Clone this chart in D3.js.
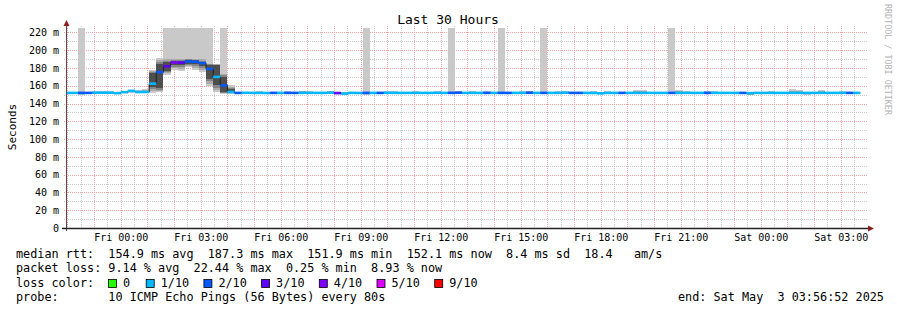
<!DOCTYPE html>
<html>
<head>
<meta charset="utf-8">
<script src="https://cdn.jsdelivr.net/npm/d3@7"></script>
<style>
  body { margin: 0; background: #fff; }
  text { font-family: "DejaVu Sans Mono", monospace; fill: #000; }
</style>
</head>
<body>
<div id="chart"></div>
<script>
// time range of the graph (UTC)
const endTime = Date.UTC(2025, 4, 3, 3, 56, 52);
const startTime = endTime - 30 * 3600 * 1000;
// consolidated rrd bins: 16 minutes each, first one starts Thu 21:52
const binStart = Date.UTC(2025, 4, 1, 21, 52);
const binMinutes = 16;

// median rtt per bin (ms)
const median = [
  152, 152, 152, 152, 152.2, 152.2, 152.2, 151.7, 152.8, 154.3, 153, 153, 162.4, 175.4, 182, 186.3,
  186, 187.3, 187, 185.5, 179, 170, 160.5, 153, 152, 152.1, 152, 152, 151.9, 152, 152, 152,
  152, 152.1, 152, 152, 152, 152.2, 151.8, 151.2, 152, 151.9, 152, 152, 152, 152.1, 152, 152,
  152, 152, 152, 152, 152.1, 152, 152, 152.2, 152, 152, 152, 152, 152, 152, 152, 152,
  152, 152.1, 152, 152, 152, 152, 152.2, 152, 152, 152, 151.9, 151.5, 152, 152, 152, 152,
  152, 152, 152, 152, 152, 152, 152, 152, 152, 152, 152, 152, 152, 152, 152, 152,
  151.7, 152, 152, 152, 152, 152, 152, 152, 152, 152, 152, 152, 152, 152, 152, 152
];

// lost pings per bin (out of 10)
const loss = [
  1, 1, 2, 2, 1, 1, 1, 1, 1, 1, 1, 1, 1, 2, 3, 4,
  3, 2, 2, 2, 2, 1, 2, 1, 2, 1, 1, 1, 1, 2, 1, 2,
  2, 1, 1, 1, 1, 1, 3, 1, 1, 1, 2, 1, 2, 1, 1, 1,
  1, 1, 1, 1, 1, 1, 2, 2, 1, 1, 1, 2, 1, 2, 2, 1,
  1, 2, 1, 2, 1, 1, 1, 2, 2, 1, 1, 1, 1, 1, 2, 1,
  1, 1, 1, 1, 1, 2, 1, 1, 1, 1, 2, 1, 1, 1, 1, 2,
  1, 1, 1, 1, 1, 1, 1, 1, 1, 1, 1, 1, 1, 1, 2, 1
];

// fastest ping per bin (ms)
const pingLo = [
  151.3, 151.3, 149.5, 151, 151.5, 151.5, 151.5, 150.8, 152, 152, 151.5, 151.5, 151.8, 153, 172.5, 178,
  176.5, 181, 177.3, 175.4, 159.4, 153, 151, 151, 151.2, 151.3, 151.3, 151.3, 151.3, 151.3, 151.3, 151.3,
  151.3, 151.3, 151.3, 151.3, 151.3, 151.3, 151, 150.3, 151.3, 150.3, 150, 151.3, 151.3, 151.3, 151.3, 151.3,
  151.3, 151.3, 151.3, 151.3, 151.3, 151.3, 151, 151.3, 151.3, 151.3, 151.3, 151.3, 151.3, 151, 151.3, 151.3,
  151.3, 151.3, 151.3, 151, 151.3, 151.3, 151.3, 151.3, 151.3, 151.3, 151.3, 150.3, 151.3, 151.3, 151.3, 151.3,
  151.3, 151.3, 151.3, 151.3, 151.3, 151, 151.3, 151.3, 151.3, 151.3, 151.3, 151.3, 151.3, 151.3, 151.3, 151.3,
  149.3, 151.3, 151.3, 151.3, 151.3, 151.3, 151.3, 151.3, 150, 151.3, 151.3, 151.3, 151.3, 151.3, 151.3, 151.3
];

// slowest answered ping per bin (ms)
const pingHi = [
  152.8, 152.8, 153, 153.5, 153.8, 154, 154, 152.5, 153.5, 155.5, 155, 156, 178, 191, 191, 191,
  191, 191, 191, 191, 186, 184.8, 175, 160.5, 152.8, 153.2, 152.8, 154, 152.8, 152.8, 152.8, 154,
  152.8, 154.5, 154, 152.8, 152.8, 154.5, 152.8, 152.8, 152.8, 152.8, 153, 152.8, 152.8, 154, 154, 152.8,
  152.8, 154, 152.8, 152.8, 154, 152.8, 153, 154.5, 152.8, 154, 152.8, 154, 152.8, 153, 152.8, 152.8,
  154, 154.5, 152.8, 153, 152.8, 154, 154, 152.8, 152.8, 152.8, 154, 152.8, 154, 152.8, 152.8, 152.8,
  155, 155, 152.8, 152.8, 152.8, 153, 155, 154, 152.8, 152.8, 154, 154, 152.8, 152.8, 152.8, 152.8,
  152.8, 152.8, 152.8, 154, 152.8, 152.8, 156, 155, 152.8, 152.8, 155, 152.8, 152.8, 154, 152.8, 152.8
];

// dense middle of the ping spread, only where it is wider than the median line
const coreLo = [
  null, null, null, null, null, null, null, null, null, null, null, null, 158.5, 157, 177, 183,
  183, 185, 184, 182, 168, 160.5, 153, 152
];
const coreHi = [
  null, null, null, null, null, null, null, null, null, null, null, null, 174, 185, 187, 188.3,
  188, 189, 188.5, 187, 183, 183, 170, 156
];

// bins where some pings went above the top of the graph
const overMaxBins = [2, 14, 15, 16, 17, 18, 19, 20, 22, 42, 54, 61, 67, 85];

const lossThresholds = [0, 1, 2, 3, 4, 5, 9];
const lossLabels = ["0", "1/10", "2/10", "3/10", "4/10", "5/10", "9/10"];
const lossColors = ["#26ff00", "#00b8ff", "#0059ff", "#5e00ff", "#7e00ff", "#dd00ff", "#ff0000"];

const yTicks = [0, 20, 40, 60, 80, 100, 120, 140, 160, 180, 200, 220];

const legendLines = [
  "median rtt:  154.9 ms avg  187.3 ms max  151.9 ms min  152.1 ms now  8.4 ms sd  18.4   am/s",
  "packet loss: 9.14 % avg  22.44 % max  0.25 % min  8.93 % now"
];
const probeLine = "probe:       10 ICMP Echo Pings (56 Bytes) every 80s";
const endLine = "end: Sat May  3 03:56:52 2025";

const width = 897;
const height = 310;
const plotL = 66, plotR = 866, plotT = 28, plotB = 228;

const svg = d3.select('#chart')
  .append('svg')
  .attr('width', width)
  .attr('height', height);

const x = d3.scaleUtc().domain([startTime, endTime]).range([plotL, plotR]);
const y = d3.scaleLinear().domain([0, 225]).range([plotB, plotT]);

//grid: minor first, then major (drawn as 1px dotted lines)
const minorT = d3.utcMinute.every(30).range(new Date(startTime), new Date(endTime))
  .filter(d => d.getUTCMinutes() === 30);
const majorT = d3.utcHour.every(1).range(new Date(startTime), new Date(endTime));
const minorV = d3.range(10, 225, 20);

const grid = svg.append('g');
function vline(sel, data, color) {
  sel.selectAll(null).data(data).enter().append('rect')
    .attr('x', d => Math.round(x(d))).attr('width', 1)
    .attr('y', 25).attr('height', plotB - 25)
    .attr('fill', color);
}
function hline(sel, data, color) {
  sel.selectAll(null).data(data).enter().append('rect')
    .attr('x', 63).attr('width', 868 - 63)
    .attr('y', d => Math.round(y(d))).attr('height', 1)
    .attr('fill', color);
}
// dotted look: pattern fills
const defs = svg.append('defs');
function dotPattern(id, color, vertical) {
  const p = defs.append('pattern').attr('id', id).attr('patternUnits', 'userSpaceOnUse')
    .attr('width', 2).attr('height', 2);
  p.append('rect').attr('x', 0).attr('y', 0).attr('width', vertical ? 2 : 1).attr('height', vertical ? 1 : 2)
    .attr('fill', color);
}
dotPattern('minV', '#cacaca', true);
dotPattern('minH', '#cacaca', false);
dotPattern('majV', '#f4a2a2', true);
dotPattern('majH', '#f4a2a2', false);
vline(grid, minorT, 'url(#minV)');
hline(grid, minorV, 'url(#minH)');
vline(grid, majorT, 'url(#majV)');
hline(grid, yTicks.slice(1), 'url(#majH)');

//bins
const bins = median.map((m, i) => {
  const t0 = binStart + i * binMinutes * 60000;
  return {
    t0: t0,
    t1: t0 + binMinutes * 60000,
    median: m,
    loss: loss[i],
    lo: pingLo[i],
    hi: pingHi[i],
    cLo: coreLo[i] ?? m,
    cHi: coreHi[i] ?? m,
    over: overMaxBins.includes(i)
  };
});

svg.append('clipPath').attr('id', 'plot')
  .append('rect').attr('x', plotL).attr('y', plotT).attr('width', plotR - plotL).attr('height', plotB - plotT);

const plot = svg.append('g').attr('clip-path', 'url(#plot)').attr('shape-rendering', 'crispEdges');

// smoke: pings above the graph top show as tall light bars
plot.selectAll('.over').data(bins.filter(d => d.over)).enter().append('rect')
  .attr('x', d => x(d.t0)).attr('width', d => x(d.t1) - x(d.t0))
  .attr('y', plotT).attr('height', d => y(d.lo) - plotT)
  .attr('fill', '#c9c9c9');

const shades = ['#c9c9c9', '#aaaaaa', '#858585', '#4e4e4e'];
shades.forEach((c, j) => {
  const f = j / (shades.length - 1);
  plot.selectAll('.smoke' + j).data(bins).enter().append('rect')
    .attr('x', d => x(d.t0)).attr('width', d => x(d.t1) - x(d.t0))
    .attr('y', d => y(d.hi + (d.cHi - d.hi) * f))
    .attr('height', d => Math.max(0, y(d.lo + (d.cLo - d.lo) * f) - y(d.hi + (d.cHi - d.hi) * f)))
    .attr('fill', c);
});

// thin step line of the median
const stepPts = bins.map(d => [d.t0, d.median]);
stepPts.push([bins[bins.length - 1].t1, bins[bins.length - 1].median]);
plot.append('path')
  .datum(stepPts)
  .attr('d', d3.line().x(d => x(d[0])).y(d => y(d[1])).curve(d3.curveStepAfter))
  .attr('fill', 'none').attr('stroke', '#222').attr('stroke-width', 1)
  .attr('shape-rendering', 'auto');

// median coloured by packet loss
function lossColor(l) {
  let idx = 0;
  lossThresholds.forEach((t, i) => { if (l >= t) idx = i; });
  return lossColors[idx];
}
plot.selectAll('.med').data(bins).enter().append('line')
  .attr('x1', d => x(d.t0)).attr('x2', d => x(d.t1))
  .attr('y1', d => y(d.median)).attr('y2', d => y(d.median))
  .attr('stroke', d => lossColor(d.loss))
  .attr('stroke-width', 2.6)
  .attr('shape-rendering', 'auto');

//axes
const yAxis = svg.append('g')
  .attr('transform', `translate(${plotL},0)`)
  .call(d3.axisLeft(y).tickValues(yTicks).tickSize(0).tickPadding(7)
    .tickFormat(d => d === 0 ? '0' : d + ' m'));
yAxis.select('.domain').remove();
yAxis.selectAll('text').attr('font-size', 10).attr('font-family', '"DejaVu Sans Mono", monospace');

const xAxis = svg.append('g')
  .attr('transform', `translate(0,${plotB})`)
  .call(d3.axisBottom(x).ticks(d3.utcHour.every(3)).tickSize(0).tickPadding(6)
    .tickFormat(d3.utcFormat('%a %H:%M')));
xAxis.select('.domain').remove();
xAxis.selectAll('text').attr('font-size', 10).attr('font-family', '"DejaVu Sans Mono", monospace');

svg.append('line').attr('x1', plotL + 0.5).attr('x2', plotL + 0.5).attr('y1', 231).attr('y2', 23)
  .attr('stroke', '#5a4a4a').attr('stroke-width', 1);
svg.append('line').attr('x1', 62).attr('x2', 870).attr('y1', plotB + 0.5).attr('y2', plotB + 0.5)
  .attr('stroke', '#222').attr('stroke-width', 1.4);
svg.append('path').attr('d', 'M66.5,20 L63.5,26 L69.5,26 Z').attr('fill', '#8a2020');
svg.append('path').attr('d', 'M874,228.5 L868,225.5 L868,231.5 Z').attr('fill', '#8a2020');

//titles
svg.append('text').attr('x', 448).attr('y', 24).attr('text-anchor', 'middle')
  .attr('font-size', 13).text('Last 30 Hours');
svg.append('text').attr('transform', 'translate(15.5,127) rotate(-90)').attr('text-anchor', 'middle')
  .attr('font-size', 11).text('Seconds');
svg.append('text').attr('transform', 'translate(885,4) rotate(90)')
  .attr('font-size', 8.4).style('fill', '#b4b4b4').text('RRDTOOL / TOBI OETIKER');

//legend
const legend = svg.append('g').attr('font-size', 11.8).style('white-space', 'pre');
legend.selectAll('.ll').data(legendLines).enter().append('text')
  .attr('x', 16).attr('y', (d, i) => 258 + i * 14.4)
  .attr('xml:space', 'preserve').text(d => d);
legend.append('text').attr('x', 16).attr('y', 286.7).text('loss color:');
const boxX = i => i === 0 ? 108 : 145.7 + (i - 1) * 57.7;
legend.selectAll('.lb').data(lossColors).enter().append('rect')
  .attr('x', (d, i) => boxX(i) + 0.5).attr('y', 279.5).attr('width', 8).attr('height', 8)
  .attr('fill', d => d).attr('stroke', '#000').attr('stroke-width', 0.8);
legend.selectAll('.lt').data(lossLabels).enter().append('text')
  .attr('x', (d, i) => boxX(i) + 15).attr('y', 286.7).text(d => d);
legend.append('text').attr('x', 16).attr('y', 301).attr('xml:space', 'preserve').text(probeLine);
legend.append('text').attr('x', 678).attr('y', 301).attr('xml:space', 'preserve').text(endLine);
</script>
</body>
</html>
